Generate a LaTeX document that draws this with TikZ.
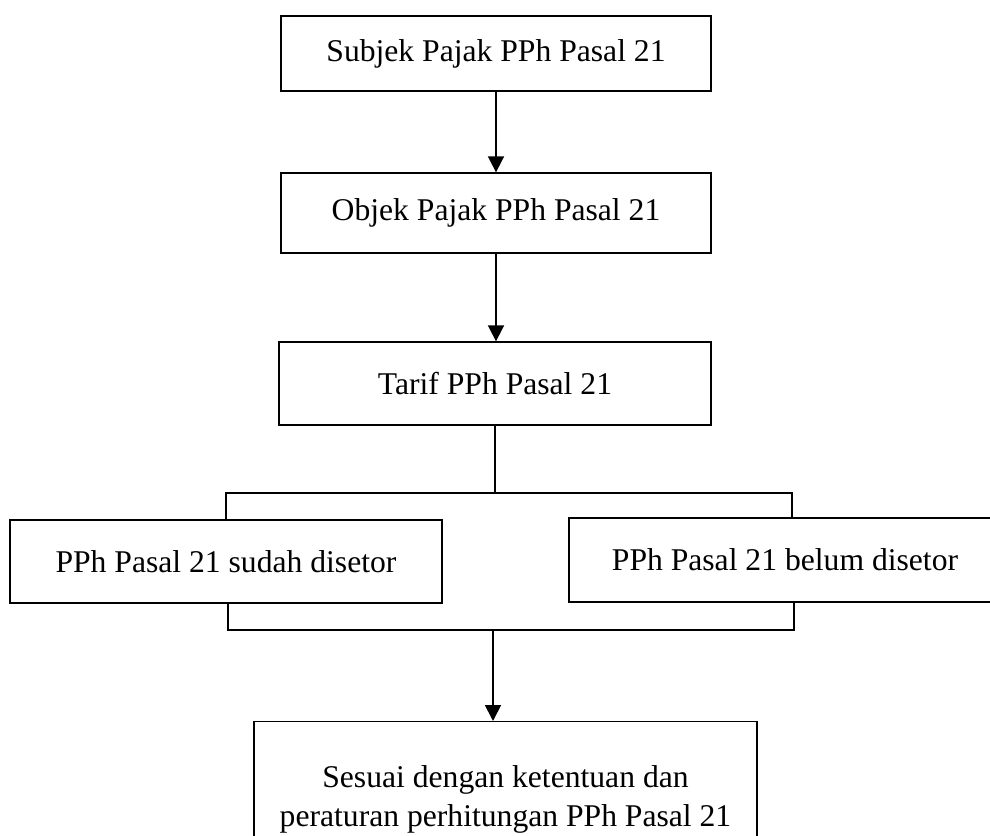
\documentclass[tikz,border=0pt]{standalone}
\usepackage{fontspec}
\setmainfont{Liberation Serif}
\usepackage{tikz}
\usetikzlibrary{arrows.meta,positioning,calc}

\begin{document}
\begin{tikzpicture}[font=\fontsize{18}{22}\selectfont,
  box/.style={draw, line width=0.75pt, inner sep=0pt, align=center},
  arr/.style={-{Triangle[length=0.32cm,width=0.32cm]}, line width=1pt},
  conn/.style={line width=0.6pt}]
\useasboundingbox (0,0) rectangle (19.8,-16.72);
% chain of three boxes
\node[box, minimum width=8.6cm, minimum height=1.5cm] (subjek) at (9.92,-1.07) {Subjek Pajak PPh Pasal 21};
\node[box, minimum width=8.6cm, minimum height=1.6cm] (objek) at (9.92,-4.26) {Objek Pajak PPh Pasal 21};
\node[box, minimum width=8.64cm, minimum height=1.66cm] (tarif) at (9.9,-7.67) {Tarif PPh Pasal 21};
\draw[arr] (subjek.south) -- (subjek.south |- objek.north);
\draw[arr] (objek.south) -- (objek.south |- tarif.north);
% the two cases
\node[box, minimum width=8.64cm, minimum height=1.66cm] (sudah) at (4.52,-11.23) {PPh Pasal 21 sudah disetor};
\node[box, minimum width=8.64cm, minimum height=1.68cm] (belum) at (15.7,-11.2) {PPh Pasal 21 belum disetor};
\coordinate (jL) at (4.52,-9.86);
\coordinate (jR) at (15.84,-9.86);
\draw[conn] (tarif.south) -- (tarif.south |- jL);
\draw[conn] (jL |- sudah.north) -- (jL) -- (jR) -- (jR |- belum.north);
\coordinate (kL) at (4.56,-12.6);
\coordinate (kR) at (15.88,-12.6);
\coordinate (kM) at (9.86,-12.6);
\draw[conn] (kL |- sudah.south) -- (kL) -- (kR) -- (kR |- belum.south);
% result
\node[box, anchor=north, minimum width=10.06cm, minimum height=3.1cm, inner ysep=0.78cm] (sesuai) at (10.11,-14.42)
  {Sesuai dengan ketentuan dan\\ peraturan perhitungan PPh Pasal 21};
\draw[arr] (kM) -- (kM |- sesuai.north);
\end{tikzpicture}
\end{document}
